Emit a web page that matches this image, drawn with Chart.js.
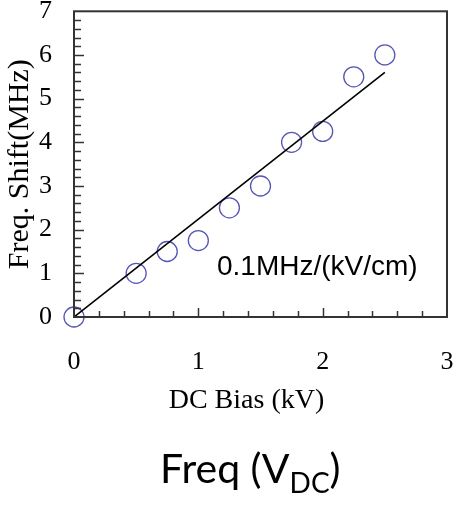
<!DOCTYPE html>
<html>
<head>
<meta charset="utf-8">
<script src="https://cdn.jsdelivr.net/npm/chart.js@4/dist/chart.umd.min.js"></script>
<style>
  body { margin: 0; background: #fff; }
  #wrap { position: relative; width: 462px; height: 505px; }
  #caption {
    position: absolute; left: 160px; top: 447px; white-space: nowrap;
    font-family: Lato, "Open Sans", sans-serif;
    font-size: 41px; color: #000; line-height: 1;
  }
  #caption sub { font-size: 28px; vertical-align: -10px; line-height: 1; }
</style>
</head>
<body>
<div id="wrap">
  <canvas id="shift-chart" width="462" height="505"></canvas>
  <div id="caption">Freq (V<sub>DC</sub>)</div>
</div>
<script>
// measured frequency shift vs DC bias
const biasKV = [0, 0.5, 0.75, 1.0, 1.25, 1.5, 1.75, 2.0, 2.25, 2.5];
const shiftMHz = [0, 1.0, 1.5, 1.75, 2.5, 3.0, 4.0, 4.25, 5.5, 6.0];

// linear fit endpoints
const fitX = [0, 2.5];
const fitY = [0, 5.6];

const fitLabel = '0.1MHz/(kV/cm)';
const fitLabelAt = { x: 1.15, y: 1.14 };

const serif = "'Liberation Serif', 'Times New Roman', serif";

// box around the plot, inward minor/major ticks and the slope label
const frameTicks = {
    id: 'frameTicks',
    afterDatasetsDraw(chart) {
        const ctx = chart.ctx;
        const a = chart.chartArea;
        const xs = chart.scales.x;
        const ys = chart.scales.y;
        ctx.save();
        ctx.strokeStyle = '#333';
        ctx.lineWidth = 1.5;
        for (let i = 1; i < 15; i++) {
            const v = i * 0.2;
            const px = Math.round(xs.getPixelForValue(v)) + 0.5;
            const len = (i % 5 === 0) ? 9 : 6;
            ctx.beginPath();
            ctx.moveTo(px, a.bottom);
            ctx.lineTo(px, a.bottom - len);
            ctx.stroke();
        }
        for (let i = 1; i < 35; i++) {
            const v = i * 0.2;
            const py = Math.round(ys.getPixelForValue(v)) + 0.5;
            const len = (i % 5 === 0) ? 10 : 7;
            ctx.beginPath();
            ctx.moveTo(a.left, py);
            ctx.lineTo(a.left + len, py);
            ctx.stroke();
        }
        ctx.lineWidth = 2;
        ctx.strokeRect(a.left, a.top, a.right - a.left, a.bottom - a.top);

        ctx.fillStyle = '#000';
        ctx.font = "28px 'Liberation Sans', Arial, sans-serif";
        ctx.textAlign = 'left';
        ctx.textBaseline = 'middle';
        ctx.fillText(fitLabel, xs.getPixelForValue(fitLabelAt.x), ys.getPixelForValue(fitLabelAt.y));
        ctx.restore();
    }
};

const ctx = document.getElementById('shift-chart').getContext('2d');

new Chart(ctx, {
    type: 'scatter',
    data: {
        datasets: [{
            label: 'Fit',
            type: 'line',
            data: fitX.map((x, i) => ({ x: x, y: fitY[i] })),
            borderColor: '#000',
            borderWidth: 1.6,
            pointRadius: 0,
            fill: false
        }, {
            label: 'Measured',
            data: biasKV.map((x, i) => ({ x: x, y: shiftMHz[i] })),
            clip: false,
            pointStyle: 'circle',
            pointRadius: 10,
            pointBorderColor: '#5656b4',
            pointBackgroundColor: 'rgba(0,0,0,0)',
            pointBorderWidth: 1.3
        }]
    },
    options: {
        responsive: false,
        animation: false,
        layout: { padding: { top: 10, right: 15, bottom: 88, left: 0 } },
        plugins: {
            legend: { display: false },
            tooltip: { enabled: false }
        },
        scales: {
            x: {
                type: 'linear',
                min: 0,
                max: 3,
                ticks: { stepSize: 1, color: '#000', padding: 22, font: { family: serif, size: 26 } },
                grid: { display: false },
                border: { display: false },
                title: { display: true, text: 'DC Bias (kV)    ', color: '#000', padding: { top: 5, bottom: 0 }, font: { family: serif, size: 28 } },
                afterFit: scale => {
                    scale.height = 100;
                    scale.paddingLeft = 0;
                    scale.paddingRight = 0;
                }
            },
            y: {
                type: 'linear',
                min: 0,
                max: 7,
                ticks: { stepSize: 1, color: '#000', padding: 14, font: { family: serif, size: 26 } },
                grid: { display: false },
                border: { display: false },
                title: { display: true, text: 'Freq. Shift(MHz)', color: '#000', padding: { top: 2, bottom: 0 }, font: { family: serif, size: 30 } },
                afterFit: scale => {
                    scale.width = 74;
                    scale.paddingTop = 0;
                    scale.paddingBottom = 0;
                }
            }
        }
    },
    plugins: [frameTicks]
});
</script>
</body>
</html>
